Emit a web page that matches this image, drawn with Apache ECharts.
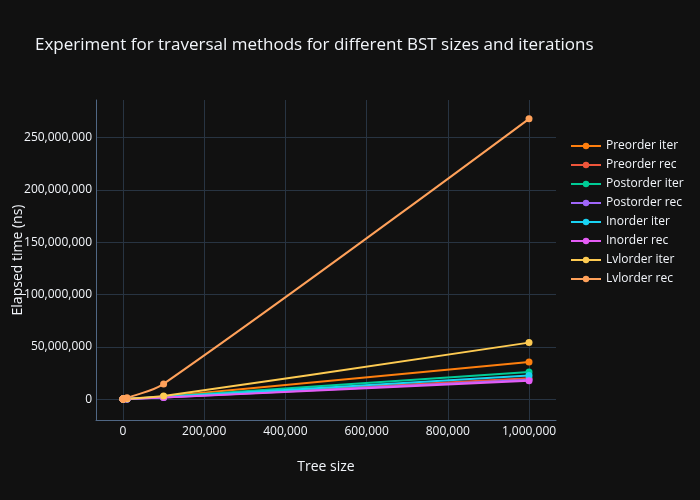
<!DOCTYPE html>
<html>
<head>
<meta charset="utf-8">
<script src="https://cdn.jsdelivr.net/npm/echarts@6/dist/echarts.min.js"></script>
<style>
html,body{margin:0;padding:0;background:#111111;}
#c{width:700px;height:500px;}
</style>
</head>
<body>
<div id="c"></div>
<script>
const treeSizes = [10, 100, 1000, 10000, 100000, 1000000];
const seriesNames = ["Preorder iter","Preorder rec","Postorder iter","Postorder rec","Inorder iter","Inorder rec","Lvlorder iter","Lvlorder rec"];
const preorderIter  = [2000, 15000, 150000, 250000, 2500000, 35500000];
const preorderRec   = [1500, 10000, 100000, 180000, 1800000, 20000000];
const postorderIter = [2000, 12000, 120000, 220000, 2200000, 26000000];
const postorderRec  = [1500, 9000, 90000, 160000, 1600000, 18500000];
const inorderIter   = [1800, 11000, 110000, 200000, 2000000, 22500000];
const inorderRec    = [1400, 8500, 85000, 150000, 1500000, 17500000];
const lvlorderIter  = [3000, 20000, 200000, 300000, 3000000, 54000000];
const lvlorderRec   = [5000, 40000, 400000, 1200000, 14500000, 268000000];
const xTicks = [0, 200000, 400000, 600000, 800000, 1000000];
const yTicks = [0, 50000000, 100000000, 150000000, 200000000, 250000000];
const colors = ["#ff7f0e","#ef553b","#00cc96","#a066fa","#19d3f3","#e45cf5","#fecb52","#ffa15a"];

const allValues = [preorderIter, preorderRec, postorderIter, postorderRec, inorderIter, inorderRec, lvlorderIter, lvlorderRec];
const fmt = v => Math.round(v).toLocaleString('en-US');
const txt = '#f2f5fa';
const font = '"Open Sans", "Noto Sans", sans-serif';

const chart = echarts.init(document.getElementById('c'));
chart.setOption({
  backgroundColor: '#111111',
  animation: false,
  color: colors,
  textStyle: {fontFamily: font, color: txt},
  title: {
    text: 'Experiment for traversal methods for different BST sizes and iterations',
    left: 35, top: 37, padding: 0,
    textStyle: {fontFamily: font, fontSize: 17, fontWeight: 'normal', color: txt}
  },
  legend: {
    orient: 'vertical',
    left: 570, top: 140, padding: 0,
    itemWidth: 30, itemHeight: 8, itemGap: 7,
    textStyle: {fontFamily: font, fontSize: 12, color: txt},
    data: seriesNames
  },
  grid: {left: 96, right: 144, top: 100, bottom: 80, outerBoundsMode: 'none', containLabel: false},
  xAxis: {
    type: 'value',
    min: -66500, max: 1066500,
    name: 'Tree size',
    nameLocation: 'middle', nameGap: 40, nameMoveOverlap: false,
    nameTextStyle: {fontFamily: font, fontSize: 14, color: txt},
    axisLine: {show: true, onZero: false, lineStyle: {color: '#506784', width: 1}},
    axisTick: {show: false, customValues: xTicks},
    axisLabel: {customValues: xTicks, formatter: fmt, color: txt, fontSize: 12, margin: 6, fontFamily: font},
    splitLine: {show: true, lineStyle: {color: '#283442', width: 1}}
  },
  yAxis: {
    type: 'value',
    min: -20000000, max: 286000000,
    name: 'Elapsed time (ns)',
    nameLocation: 'middle', nameGap: 71, nameMoveOverlap: false,
    nameTextStyle: {fontFamily: font, fontSize: 14, color: txt},
    axisLine: {show: true, onZero: false, lineStyle: {color: '#506784', width: 1}},
    axisTick: {show: false, customValues: yTicks},
    axisLabel: {customValues: yTicks, formatter: fmt, color: txt, fontSize: 12, margin: 4, fontFamily: font},
    splitLine: {show: true, lineStyle: {color: '#283442', width: 1}}
  },
  series: seriesNames.map((n, i) => ({
    name: n,
    type: 'line',
    smooth: 0.35,
    symbol: 'circle',
    symbolSize: 7,
    lineStyle: {width: 2},
    itemStyle: {color: colors[i]},
    data: treeSizes.map((x, j) => [x, allValues[i][j]])
  }))
});
</script>
</body>
</html>
